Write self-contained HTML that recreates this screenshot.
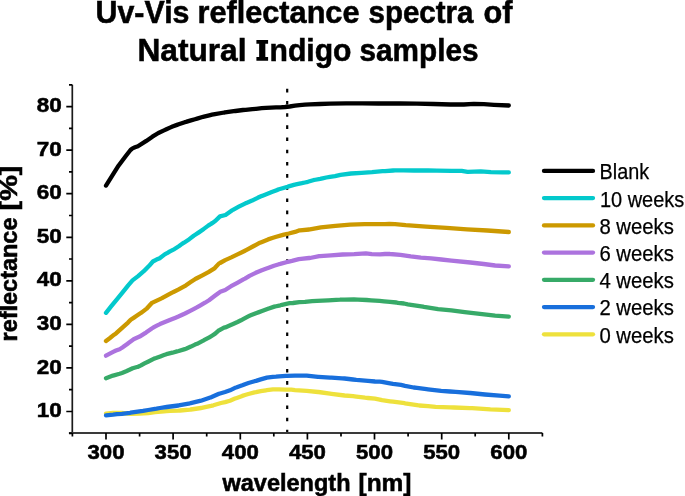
<!DOCTYPE html><html><head><meta charset="utf-8"><style>
html,body{margin:0;padding:0;background:#fff;}
body{width:685px;height:496px;overflow:hidden;}
svg{display:block;will-change:transform;}
text{font-family:"Liberation Sans",sans-serif;}
.b{font-weight:bold;}
.t{stroke:#000;stroke-width:0.55px;}
.lg{stroke:#000;stroke-width:0.25px;}
</style></head><body>
<svg width="685" height="496" viewBox="0 0 685 496">
<text class="b t" x="95.50" y="22.6" font-size="31.2" textLength="94.00" lengthAdjust="spacingAndGlyphs">Uv-Vis</text>
<text class="b t" x="197.50" y="22.6" font-size="31.2" textLength="162.00" lengthAdjust="spacingAndGlyphs">reflectance</text>
<text class="b t" x="368.50" y="22.6" font-size="31.2" textLength="105.00" lengthAdjust="spacingAndGlyphs">spectra</text>
<text class="b t" x="483.50" y="22.6" font-size="31.2" textLength="29.00" lengthAdjust="spacingAndGlyphs">of</text>
<text class="b" x="256.4" y="61.1" font-size="31.2" fill="none">I</text>
<path d="M256.4,40.1H268.1V43.8H265.35V57.1H268.1V60.8H256.4V57.1H259.15V43.8H256.4Z" fill="#000"/>
<text class="b t" x="137.50" y="61.1" font-size="31.2" textLength="109.00" lengthAdjust="spacingAndGlyphs">Natural</text>
<text class="b t" x="269.50" y="61.1" font-size="31.2" textLength="82.00" lengthAdjust="spacingAndGlyphs">ndigo</text>
<text class="b t" x="359.50" y="61.1" font-size="31.2" textLength="119.00" lengthAdjust="spacingAndGlyphs">samples</text>
<line x1="287.2" y1="88.8" x2="287.2" y2="433" stroke="#000" stroke-width="2.2" stroke-dasharray="3.6 8.58"/>
<path d="M72.3,84.8 V433.0" fill="none" stroke="#1a1a1a" stroke-width="1.7"/>
<path d="M68.89999999999999,433.0 H542.4" fill="none" stroke="#3a3a3a" stroke-width="1.9"/>
<path d="M72.3,433.3h-3.3 M72.3,411.5h-6 M72.3,389.7h-3.3 M72.3,367.9h-6 M72.3,346.2h-3.3 M72.3,324.4h-6 M72.3,302.6h-3.3 M72.3,280.8h-6 M72.3,259.0h-3.3 M72.3,237.3h-6 M72.3,215.5h-3.3 M72.3,193.7h-6 M72.3,171.9h-3.3 M72.3,150.1h-6 M72.3,128.4h-3.3 M72.3,106.6h-6 M72.3,84.8h-3.3 M72.4,433.0v3.6 M106.0,433.0v6.5 M139.6,433.0v3.6 M173.1,433.0v6.5 M206.7,433.0v3.6 M240.3,433.0v6.5 M273.8,433.0v3.6 M307.4,433.0v6.5 M341.0,433.0v3.6 M374.5,433.0v6.5 M408.1,433.0v3.6 M441.7,433.0v6.5 M475.2,433.0v3.6 M508.8,433.0v6.5 M542.4,433.0v3.6" fill="none" stroke="#000" stroke-width="1.7"/>
<text class="b t" x="36.8" y="417.1" font-size="20.9" textLength="25" lengthAdjust="spacingAndGlyphs">10</text>
<text class="b t" x="36.8" y="373.5" font-size="20.9" textLength="25" lengthAdjust="spacingAndGlyphs">20</text>
<text class="b t" x="36.8" y="330.0" font-size="20.9" textLength="25" lengthAdjust="spacingAndGlyphs">30</text>
<text class="b t" x="36.8" y="286.4" font-size="20.9" textLength="25" lengthAdjust="spacingAndGlyphs">40</text>
<text class="b t" x="36.8" y="242.9" font-size="20.9" textLength="25" lengthAdjust="spacingAndGlyphs">50</text>
<text class="b t" x="36.8" y="199.3" font-size="20.9" textLength="25" lengthAdjust="spacingAndGlyphs">60</text>
<text class="b t" x="36.8" y="155.7" font-size="20.9" textLength="25" lengthAdjust="spacingAndGlyphs">70</text>
<text class="b t" x="36.8" y="112.2" font-size="20.9" textLength="25" lengthAdjust="spacingAndGlyphs">80</text>
<text class="b t" x="87.5" y="459.2" font-size="20.9" textLength="37" lengthAdjust="spacingAndGlyphs">300</text>
<text class="b t" x="154.6" y="459.2" font-size="20.9" textLength="37" lengthAdjust="spacingAndGlyphs">350</text>
<text class="b t" x="221.8" y="459.2" font-size="20.9" textLength="37" lengthAdjust="spacingAndGlyphs">400</text>
<text class="b t" x="288.9" y="459.2" font-size="20.9" textLength="37" lengthAdjust="spacingAndGlyphs">450</text>
<text class="b t" x="356.0" y="459.2" font-size="20.9" textLength="37" lengthAdjust="spacingAndGlyphs">500</text>
<text class="b t" x="423.2" y="459.2" font-size="20.9" textLength="37" lengthAdjust="spacingAndGlyphs">550</text>
<text class="b t" x="490.3" y="459.2" font-size="20.9" textLength="37" lengthAdjust="spacingAndGlyphs">600</text>
<text class="b t" x="222.50" y="490.7" font-size="23.5" textLength="128.00" lengthAdjust="spacingAndGlyphs">wavelength</text>
<text class="b t" x="358.50" y="490.7" font-size="23.5" textLength="53.00" lengthAdjust="spacingAndGlyphs">[nm]</text>
<text class="b t" transform="translate(16.9,341.50) rotate(-90)" x="0" y="0" font-size="23.5" textLength="124.00" lengthAdjust="spacingAndGlyphs">reflectance</text>
<text class="b t" transform="translate(16.9,210.50) rotate(-90)" x="0" y="0" font-size="23.5" textLength="45.00" lengthAdjust="spacingAndGlyphs">[%]</text>
<polyline points="106.0,413.6 113.1,413.0 121.9,413.0 130.6,413.8 139.4,413.7 148.2,413.0 155.0,412.0 164.0,411.4 166.7,411.2 170.0,410.9 178.4,410.6 180.0,410.5 190.0,409.6 190.7,409.5 201.0,408.0 201.7,407.9 211.0,405.9 213.4,405.3 221.0,403.0 225.1,402.1 230.0,400.7 235.0,398.6 236.1,398.2 242.3,395.9 245.0,395.0 248.4,394.0 254.5,392.4 256.0,392.2 260.7,391.2 266.0,390.3 266.8,390.2 272.9,389.4 276.0,389.3 279.0,389.3 285.2,389.7 286.0,389.7 291.3,389.7 295.0,390.1 306.7,390.9 318.0,392.0 318.4,392.0 330.0,393.7 331.5,393.9 344.6,395.5 353.0,396.2 356.3,396.6 365.0,397.7 368.0,398.0 375.0,398.7 379.7,399.6 382.0,400.2 390.0,401.3 393.0,401.7 404.6,403.2 405.0,403.3 417.0,405.1 419.2,405.5 428.0,406.2 435.6,406.8 450.0,407.4 453.9,407.5 470.0,408.1 472.1,408.2 490.4,409.4 508.8,410.1" fill="none" stroke="#EEE13C" stroke-width="4.3" stroke-linejoin="round" stroke-linecap="round"/>
<polyline points="106.0,415.3 113.1,414.7 117.0,414.2 121.9,413.8 130.0,412.8 130.6,412.7 139.4,411.4 143.0,410.9 148.2,410.0 155.0,408.8 156.5,408.6 160.0,408.0 166.7,407.0 178.4,405.5 180.0,405.1 190.0,403.3 190.7,403.1 201.0,400.7 201.7,400.5 211.0,397.3 211.1,397.3 219.0,393.8 219.2,393.7 225.1,392.0 230.0,390.3 235.0,387.8 236.1,387.5 242.3,385.3 245.0,384.2 248.4,383.0 254.5,381.2 256.0,380.9 260.7,379.4 266.0,377.9 266.8,377.7 272.9,376.9 276.0,376.7 279.0,376.4 286.0,375.9 287.2,375.8 295.0,375.6 306.7,375.6 318.0,376.8 318.4,376.8 330.0,377.6 331.5,377.7 342.0,378.4 344.6,378.5 353.0,379.5 356.3,379.9 365.0,380.6 368.0,380.8 375.0,381.5 379.7,381.6 382.0,381.8 390.0,383.3 393.0,383.8 401.0,384.9 405.0,385.8 413.7,387.5 417.0,387.8 426.5,389.1 428.0,389.3 441.1,390.8 450.0,391.5 455.7,391.9 470.0,393.0 470.3,393.0 484.9,394.5 499.5,395.7 508.8,396.3" fill="none" stroke="#186FDC" stroke-width="4.3" stroke-linejoin="round" stroke-linecap="round"/>
<polyline points="106.0,378.2 113.0,375.6 113.1,375.6 119.6,373.8 122.0,373.0 126.2,371.3 132.7,368.3 137.0,367.0 138.0,366.8 141.0,365.4 144.5,363.4 148.0,361.7 154.1,358.6 156.0,358.0 160.3,356.4 164.0,355.0 166.4,354.2 172.5,352.7 177.0,351.4 178.7,351.0 184.8,349.1 186.0,348.7 190.9,346.6 195.0,344.6 197.1,343.8 203.2,340.7 204.0,340.2 209.3,337.4 212.0,335.7 215.2,333.6 219.1,330.2 220.0,329.9 224.0,327.7 225.2,327.4 231.3,324.8 232.0,324.5 237.5,322.0 241.0,320.3 243.6,318.9 249.7,315.7 250.0,315.6 255.9,313.2 259.0,312.1 262.0,311.0 268.0,308.7 268.1,308.7 274.3,306.6 275.0,306.5 280.4,305.3 282.0,304.8 289.6,303.2 293.0,303.0 299.3,302.1 305.0,301.9 312.1,301.2 317.0,300.8 328.0,300.4 328.2,300.4 340.0,299.7 341.0,299.6 345.0,299.7 353.9,299.4 358.0,299.6 366.7,300.0 371.0,300.3 379.6,300.9 384.0,301.3 390.0,301.8 396.4,302.5 398.0,302.9 404.0,303.5 407.8,304.3 411.0,304.8 423.0,306.7 424.0,306.9 435.0,308.6 438.1,309.1 451.4,310.3 464.7,312.1 479.9,313.9 495.1,315.7 508.8,316.6" fill="none" stroke="#37AA68" stroke-width="4.3" stroke-linejoin="round" stroke-linecap="round"/>
<polyline points="106.0,355.7 113.1,351.9 116.0,350.5 119.6,349.2 122.0,347.7 123.0,347.1 128.0,343.4 128.5,342.9 134.0,339.0 134.1,338.9 139.6,336.6 145.1,333.2 146.0,332.6 151.8,328.5 154.0,327.2 157.3,325.4 160.0,324.1 166.1,321.6 172.3,319.0 175.0,317.9 178.4,316.5 184.5,313.7 185.0,313.5 190.7,310.6 195.0,308.3 196.8,307.4 200.0,305.6 202.9,303.9 205.0,302.7 209.0,300.2 215.2,295.5 219.0,292.7 220.0,292.0 220.3,291.8 225.2,290.0 231.0,286.3 231.1,286.2 237.3,282.8 243.4,279.4 245.0,278.6 249.5,275.9 255.7,272.8 257.0,272.2 261.8,270.2 267.9,268.0 268.0,268.0 274.0,265.7 279.0,264.2 280.2,263.9 286.3,262.2 290.0,261.3 292.0,260.9 298.8,259.2 301.0,258.9 309.0,258.0 310.0,258.0 319.2,256.2 320.0,256.1 330.9,255.4 342.6,254.5 354.2,254.2 365.9,253.4 371.8,254.1 380.0,254.3 385.0,254.0 388.2,253.8 390.0,254.0 400.4,254.8 410.7,256.4 420.9,257.6 431.1,258.4 441.3,259.5 451.4,260.6 470.4,262.5 483.7,264.0 495.1,265.5 508.8,266.3" fill="none" stroke="#AC73DE" stroke-width="4.3" stroke-linejoin="round" stroke-linecap="round"/>
<polyline points="106.0,341.0 109.7,338.2 110.0,338.0 114.1,334.7 116.0,333.4 119.6,330.1 125.2,325.1 128.0,322.6 130.7,319.8 134.0,317.6 136.3,316.0 140.0,313.5 141.8,312.4 146.0,309.1 146.8,308.5 151.8,303.0 152.0,302.9 156.2,300.9 160.0,299.1 162.0,298.1 166.1,295.8 172.1,292.6 174.0,291.7 178.2,289.6 184.2,286.3 186.0,285.3 190.0,282.5 190.3,282.3 195.0,279.2 196.3,278.5 202.4,275.3 208.4,272.1 214.5,268.4 215.0,267.8 219.1,263.4 220.0,263.0 225.2,260.1 231.3,257.4 237.5,254.4 245.0,250.8 245.7,250.3 253.8,246.0 260.0,242.7 262.0,241.9 268.1,239.4 273.0,237.8 276.3,236.8 283.0,234.9 284.0,234.6 288.8,233.5 295.0,231.9 299.0,230.4 300.0,230.3 309.2,229.5 310.0,229.3 320.9,227.3 335.5,225.8 350.1,224.7 364.7,224.1 375.0,224.2 385.0,224.2 389.3,223.9 395.0,224.2 405.7,225.2 426.1,226.6 446.5,227.9 467.0,229.3 487.4,230.5 508.8,232.0" fill="none" stroke="#CC9900" stroke-width="4.3" stroke-linejoin="round" stroke-linecap="round"/>
<polyline points="106.0,312.8 111.3,306.2 116.9,299.4 122.6,292.4 128.2,285.3 132.5,280.4 138.1,276.1 143.8,271.2 149.4,265.5 150.0,264.8 152.9,261.5 156.5,259.6 159.8,258.2 160.0,258.0 164.7,254.4 167.0,253.2 169.5,251.6 174.4,249.1 174.5,249.0 179.2,246.0 182.0,243.9 184.0,242.7 188.9,239.5 189.0,239.4 193.7,235.8 196.0,234.3 198.5,232.6 203.4,229.2 203.5,229.1 208.2,225.6 211.0,223.9 212.5,222.9 215.5,220.8 220.0,216.4 225.5,215.0 232.2,210.2 233.0,209.8 238.8,206.7 245.5,203.3 247.0,202.7 252.1,200.6 257.7,197.8 261.0,196.3 263.2,195.4 270.0,192.8 271.1,192.3 277.3,189.9 279.0,189.3 283.4,188.0 287.5,186.8 289.5,186.1 295.7,184.4 296.0,184.3 301.8,183.2 305.0,182.5 307.9,181.8 314.0,180.0 314.1,180.0 320.2,178.9 322.5,178.4 326.3,177.5 330.0,176.8 335.0,176.1 340.5,174.8 351.0,173.5 361.5,172.8 372.0,172.2 382.6,171.2 385.0,171.1 393.1,170.5 395.0,170.4 403.6,170.4 414.1,170.5 428.1,170.5 436.9,170.6 451.5,170.8 461.7,170.9 467.6,171.8 480.7,171.3 490.9,172.1 502.6,172.4 508.8,172.4" fill="none" stroke="#03C9CC" stroke-width="4.3" stroke-linejoin="round" stroke-linecap="round"/>
<polyline points="106.0,185.6 111.3,177.2 118.5,165.7 125.8,156.0 130.5,150.0 132.5,148.4 135.0,147.3 137.9,146.3 146.3,140.9 152.4,136.7 158.4,133.0 164.0,130.4 166.4,129.3 170.0,127.6 172.5,126.5 177.0,124.9 178.7,124.3 184.8,122.2 186.0,121.9 190.9,120.4 195.0,119.2 197.1,118.6 203.2,116.8 204.0,116.6 209.3,115.3 212.0,114.7 215.0,114.1 224.3,112.5 225.0,112.4 233.7,111.2 235.4,111.0 243.0,110.0 245.6,109.9 252.4,109.1 256.0,108.8 261.7,108.2 266.0,107.9 271.1,107.6 276.0,107.4 280.4,107.3 285.0,107.0 289.7,106.5 295.0,105.7 299.6,105.1 305.0,104.7 310.0,104.4 320.0,104.0 330.1,103.6 346.2,103.4 362.3,103.4 378.3,103.5 400.0,103.5 416.8,103.6 433.6,104.0 450.4,104.5 463.8,104.5 473.9,103.8 483.9,104.2 494.0,104.8 508.8,105.5" fill="none" stroke="#000000" stroke-width="4.3" stroke-linejoin="round" stroke-linecap="round"/>
<line x1="544" y1="170.9" x2="593" y2="170.9" stroke="#000000" stroke-width="4.3" stroke-linecap="round"/>
<text class="lg" x="599.60" y="179.3" font-size="21.3" textLength="49.60" lengthAdjust="spacingAndGlyphs">Blank</text>
<line x1="544" y1="198.1" x2="593" y2="198.1" stroke="#03C9CC" stroke-width="4.3" stroke-linecap="round"/>
<text class="lg" x="599.90" y="206.5" font-size="21.3" textLength="84.40" lengthAdjust="spacingAndGlyphs">10 weeks</text>
<line x1="544" y1="225.4" x2="593" y2="225.4" stroke="#CC9900" stroke-width="4.3" stroke-linecap="round"/>
<text class="lg" x="599.40" y="233.8" font-size="21.3" textLength="74.50" lengthAdjust="spacingAndGlyphs">8 weeks</text>
<line x1="544" y1="252.6" x2="593" y2="252.6" stroke="#AC73DE" stroke-width="4.3" stroke-linecap="round"/>
<text class="lg" x="599.40" y="261.0" font-size="21.3" textLength="74.50" lengthAdjust="spacingAndGlyphs">6 weeks</text>
<line x1="544" y1="279.8" x2="593" y2="279.8" stroke="#37AA68" stroke-width="4.3" stroke-linecap="round"/>
<text class="lg" x="599.40" y="288.2" font-size="21.3" textLength="74.50" lengthAdjust="spacingAndGlyphs">4 weeks</text>
<line x1="544" y1="307.1" x2="593" y2="307.1" stroke="#186FDC" stroke-width="4.3" stroke-linecap="round"/>
<text class="lg" x="599.40" y="315.4" font-size="21.3" textLength="74.50" lengthAdjust="spacingAndGlyphs">2 weeks</text>
<line x1="544" y1="334.3" x2="593" y2="334.3" stroke="#EEE13C" stroke-width="4.3" stroke-linecap="round"/>
<text class="lg" x="599.40" y="342.7" font-size="21.3" textLength="74.50" lengthAdjust="spacingAndGlyphs">0 weeks</text>
</svg></body></html>
